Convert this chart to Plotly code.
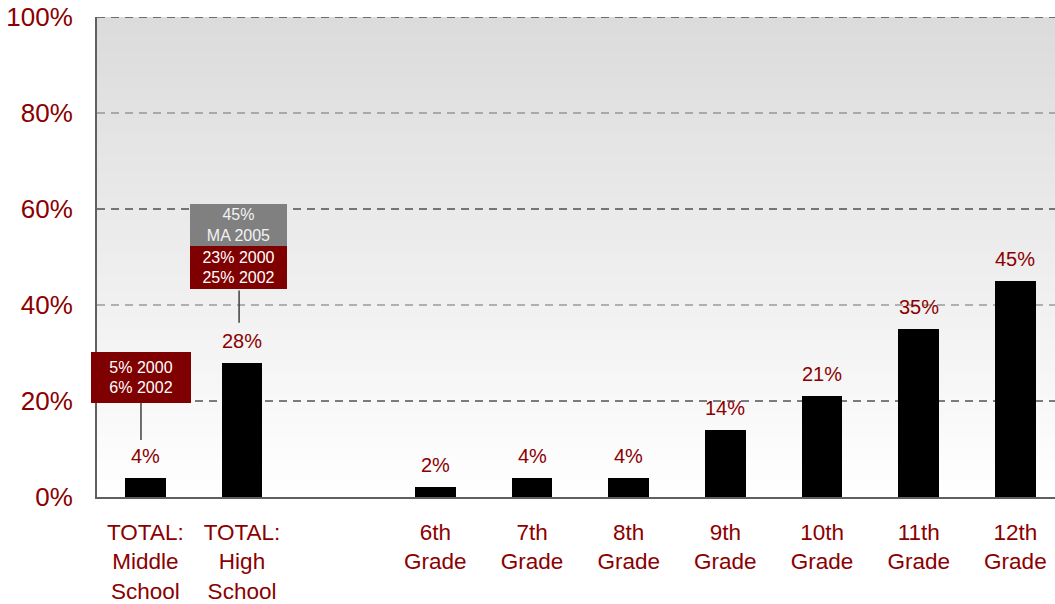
import plotly.graph_objects as go

# Categories (a blank slot separates the totals from the grade bars)
categories = ["TOTAL:<br>Middle<br>School", "TOTAL:<br>High<br>School", "",
              "6th<br>Grade", "7th<br>Grade", "8th<br>Grade", "9th<br>Grade",
              "10th<br>Grade", "11th<br>Grade", "12th<br>Grade"]
positions = [0, 1, 3, 4, 5, 6, 7, 8, 9]
values = [4, 28, 2, 4, 4, 14, 21, 35, 45]
y_ticks = [0, 20, 40, 60, 80, 100]
y_tick_text = ["0%", "20%", "40%", "60%", "80%", "100%"]

# Comparison callouts
ms_note = "5% 2000<br>6% 2002"
hs_ma_note = "45%<br>MA 2005"
hs_note = "23% 2000<br>25% 2002"

DARK_RED = "#8B0000"
BOX_RED = "#7F0000"
FONT = "Liberation Sans, Arial, sans-serif"

fig = go.Figure()
fig.add_trace(go.Bar(
    x=positions, y=values, width=0.42,
    marker=dict(color="#000000", line=dict(width=0)),
    hoverinfo="skip", showlegend=False,
))

shapes = []
# Vertical grey-to-white gradient behind the plot area
n = 80
for i in range(n):
    y0 = 100 * i / n
    y1 = 100 * (i + 1) / n
    frac = (i + 0.5) / n
    c = round(255 - 36 * frac)
    shapes.append(dict(type="rect", xref="paper", yref="y", x0=0, x1=1,
                       y0=y0, y1=y1 + 0.05, line=dict(width=0),
                       fillcolor=f"rgb({c},{c},{c})", layer="below"))
# Dashed gridlines
grid_colors = {20: "#000000", 40: "#707070", 60: "#000000", 80: "#707070", 100: "#000000"}
for gy, gc in grid_colors.items():
    shapes.append(dict(type="line", xref="paper", yref="y", x0=0, x1=1, y0=gy, y1=gy,
                       line=dict(color=gc, width=1, dash="8px,6px"), layer="below"))
# Callout connectors
shapes.append(dict(type="line", xref="x", yref="y", x0=-0.045, x1=-0.045, y0=24.6, y1=11.9,
                   line=dict(color="#404040", width=1.5)))
shapes.append(dict(type="line", xref="x", yref="y", x0=0.97, x1=0.97, y0=43.0, y1=36.3,
                   line=dict(color="#404040", width=1.5)))

annotations = []
for xp, v in zip(positions, values):
    annotations.append(dict(x=xp, y=v, xref="x", yref="y", text=f"{v}%",
                            showarrow=False, yanchor="bottom", yshift=9,
                            font=dict(family=FONT, size=20, color=DARK_RED)))

annotations.append(dict(x=-0.05, y=(497 - 377.5) / 4.8, xref="x", yref="y", text=ms_note,
                        showarrow=False, width=100, height=51, bgcolor=BOX_RED,
                        borderpad=0, borderwidth=0,
                        font=dict(family=FONT, size=16, color="#FFFFFF")))
annotations.append(dict(x=0.965, y=(497 - 225) / 4.8, xref="x", yref="y", text=hs_ma_note,
                        showarrow=False, width=97, height=42, bgcolor="#808080",
                        borderpad=0, borderwidth=0,
                        font=dict(family=FONT, size=16, color="#F2F2F2")))
annotations.append(dict(x=0.965, y=(497 - 267.5) / 4.8, xref="x", yref="y", text=hs_note,
                        showarrow=False, width=97, height=43, bgcolor=BOX_RED,
                        borderpad=0, borderwidth=0,
                        font=dict(family=FONT, size=16, color="#FFFFFF")))

fig.update_layout(
    width=1055, height=604,
    margin=dict(l=97, r=0, t=17, b=107),
    paper_bgcolor="#FFFFFF", plot_bgcolor="#FFFFFF",
    font=dict(family=FONT),
    shapes=shapes, annotations=annotations,
    bargap=0,
    xaxis=dict(range=[-0.5, 9.41], tickvals=list(range(10)), ticktext=categories,
               showgrid=False, zeroline=False, showline=True, linecolor="#606060", linewidth=2,
               ticks="", ticklabelstandoff=14, automargin=False,
               tickfont=dict(family=FONT, size=22.5, color=DARK_RED), fixedrange=True),
    yaxis=dict(range=[0, 100], tickvals=y_ticks, ticktext=y_tick_text,
               showgrid=False, zeroline=False, showline=True, linecolor="#606060", linewidth=2,
               ticks="", ticklabelstandoff=17, automargin=False,
               tickfont=dict(family=FONT, size=26, color=DARK_RED), fixedrange=True),
)

fig.write_html("out.html")
